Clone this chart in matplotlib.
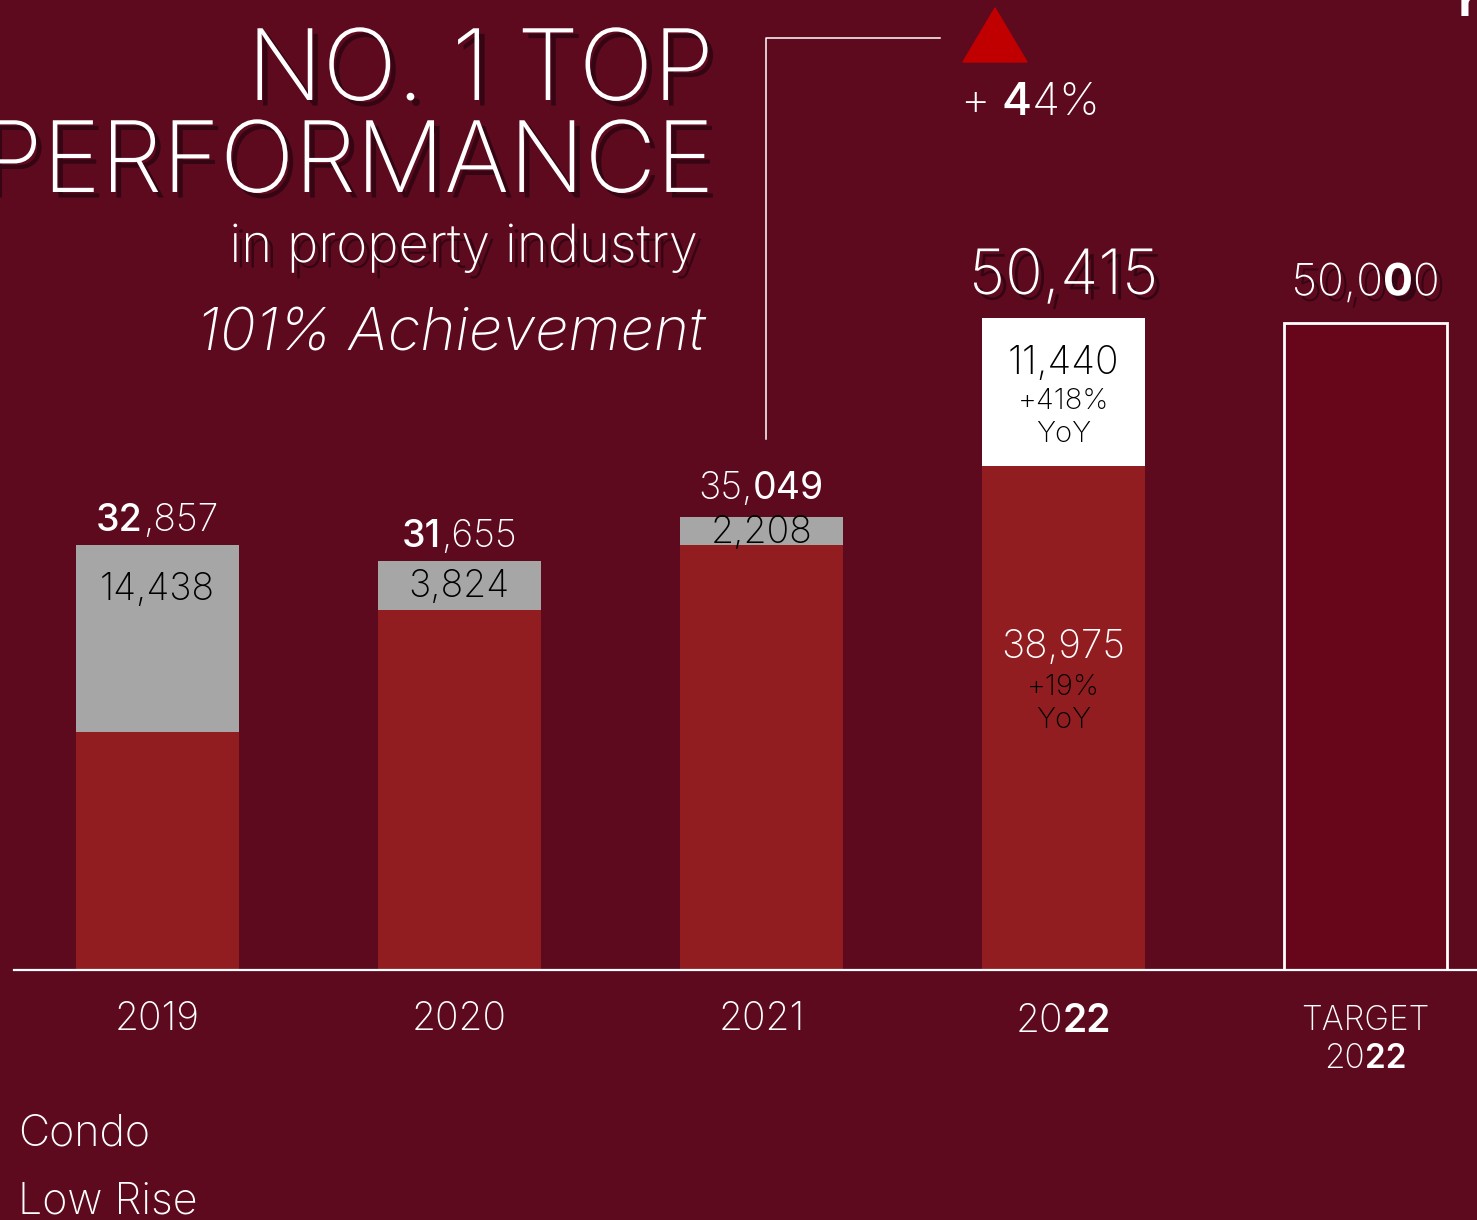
import matplotlib
matplotlib.use("Agg")
import matplotlib.pyplot as plt
import matplotlib.patheffects as pe
from matplotlib.patches import Polygon
from matplotlib.lines import Line2D
from matplotlib.transforms import offset_copy

# Data
years = ["2019", "2020", "2021", "2022"]
low_rise = [18419, 27831, 32841, 38975]
condo = [14438, 3824, 2208, 11440]
totals = [32857, 31655, 35049, 50415]
target = 50000
target_label = ["TARGET", "2022"]
yoy_condo = "+418%"
yoy_low = "+19%"

BG = "#5D0A1F"
RED = "#921D21"
GRAY = "#A6A6A6"
FONT = "Inter"
W, H = 1477, 1220

fig = plt.figure(figsize=(W / 100, H / 100), dpi=100, facecolor=BG)
ax = fig.add_axes([14 / W, (H - 970) / H, (W - 14) / W, 970 / H])
ax.set_facecolor(BG)
ax.set_xlim(-0.474, 4.369)
ax.set_ylim(0, 75000)
ax.axis("off")
renderer = fig.canvas.get_renderer()
shadow = [pe.withSimplePatchShadow(offset=(4, -4), shadow_rgbFace="#2B0410", alpha=0.8)]


def px(x, y):
    # top-left pixel coords -> figure fraction
    return x / W, 1 - y / H


def mixed(x, y, parts, size, color="white", transform=None, ha="center",
          dx=0, dy=0, effects=None, style="normal"):
    """Draw a run of text pieces with different weights side by side."""
    transform = transform or fig.transFigure
    texts, widths = [], []
    for p in parts:
        s, w = p[0], p[1]
        gap = p[2] if len(p) > 2 else 0
        t = fig.text(x, y, s, transform=transform, fontsize=size, weight=w,
                     color=color, family=FONT, ha="left", va="baseline",
                     style=style, path_effects=effects)
        widths.append(t.get_window_extent(renderer).width + gap)
        texts.append(t)
    total = sum(widths)
    off = {"left": 0, "center": -total / 2, "right": -total}[ha]
    for t, wd in zip(texts, widths):
        t.set_transform(offset_copy(transform, fig=fig, x=off + dx, y=dy, units="dots"))
        off += wd


x = list(range(len(years)))
bw = 0.54
condo_colors = [GRAY, GRAY, GRAY, "white"]
ax.bar(x, low_rise, bw, color=RED, zorder=2)
ax.bar(x, condo, bw, bottom=low_rise, color=condo_colors, zorder=2)
ax.bar(4, target, bw, facecolor="#67061A", edgecolor="white", linewidth=2, zorder=2)
ax.axhline(0, color="white", lw=1.6, clip_on=False, zorder=3)

D = ax.transData
# totals above the bars
mixed(0, totals[0], [("32", 500), (",857", 200)], 27, transform=D, dy=14)
mixed(1, totals[1], [("31", 500), (",655", 200)], 27, transform=D, dy=14)
mixed(2, totals[2], [("35,", 200), ("049", 400)], 27, transform=D, dy=18)
mixed(3, totals[3], [("50,415", 200)], 45, transform=D, dy=24, effects=shadow)
mixed(4, target, [("50,0", 200), ("0", 700), ("0", 200)], 32, transform=D, dy=28, effects=shadow)

# condo labels inside grey parts
mixed(0, totals[0], [("14,438", 200)], 27, color="black", transform=D, dy=-55)
mixed(1, low_rise[1] + condo[1] / 2, [("3,824", 200)], 27, color="black", transform=D, dy=-12)
mixed(2, low_rise[2] + condo[2] / 2, [("2,208", 200)], 27, color="black", transform=D, dy=-12)

# 2022 stack labels
c22 = low_rise[3] + condo[3] / 2
mixed(3, c22, [("11,440", 200)], 28, color="black", transform=D, dy=18)
mixed(3, c22, [(yoy_condo, 200)], 21, color="black", transform=D, dy=-17)
mixed(3, c22, [("YoY", 200)], 21, color="black", transform=D, dy=-50)
mixed(3, low_rise[3], [("38,975", 200)], 28, color="white", transform=D, dy=-192)
mixed(3, low_rise[3], [(yoy_low, 200)], 21, color="black", transform=D, dy=-229)
mixed(3, low_rise[3], [("YoY", 200)], 21, color="black", transform=D, dy=-262)

# year labels
for i, yr in enumerate(years[:3]):
    mixed(i, 0, [(yr, 200)], 28, transform=D, dy=-60)
mixed(3, 0, [("20", 200), ("22", 600)], 28, transform=D, dy=-62)
mixed(4, 0, [(target_label[0], 200)], 24, transform=D, dy=-60)
mixed(4, 0, [("20", 200), ("22", 600)], 24, transform=D, dy=-98)

# headline
fig.text(*px(714, 100), "NO. 1 TOP", fontsize=71, family=FONT, weight=200,
         color="white", ha="right", va="baseline", path_effects=shadow)
fig.text(*px(714, 192), "PERFORMANCE", fontsize=71, family=FONT, weight=200,
         color="white", ha="right", va="baseline", path_effects=shadow)
fig.text(*px(698, 262), "in property industry", fontsize=38, family=FONT, weight=200,
         color="white", ha="right", va="baseline", path_effects=shadow)
fig.text(*px(705, 350), "101% Achievement", fontsize=43, family=FONT, weight=200,
         style="italic", color="white", ha="right", va="baseline")

# connector line from 2021 label to the growth marker
x21 = ax.transData.transform((2, 0))[0] + 5
y21 = ax.transData.transform((2, totals[2]))[1] + 78
top = H - 38
fig.add_artist(Line2D([x21 / W, x21 / W, 940 / W], [y21 / H, top / H, top / H],
                      transform=fig.transFigure, color="white", lw=1.1))

# growth marker
fig.add_artist(Polygon([px(963, 62), px(1027, 62), px(995, 8)], closed=True,
                       transform=fig.transFigure, color="#C00000"))
mixed(*px(960, 115), [("+", 200, 12), ("4", 500), ("4%", 200)], 33, ha="left")

# legend
fig.text(*px(18, 1146), "Condo", fontsize=31, family=FONT, weight=200, color="white")
fig.text(*px(18, 1214), "Low Rise", fontsize=31, family=FONT, weight=200, color="white")
fig.text(*px(1459, 16), "r", fontsize=30, family=FONT, weight=800, color="white")

fig.savefig("out.png", dpi=100, facecolor=BG)
